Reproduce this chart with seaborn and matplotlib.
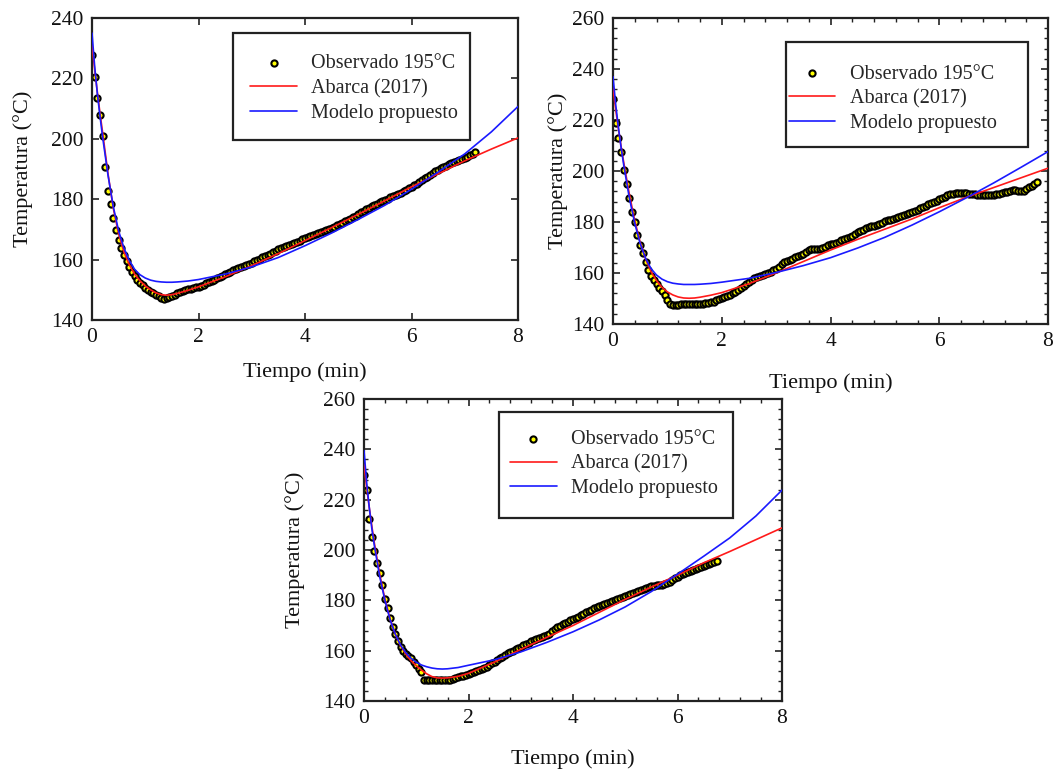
import numpy as np
import pandas as pd
import matplotlib
matplotlib.use("Agg")
import matplotlib.pyplot as plt
from matplotlib.patches import Rectangle
from matplotlib.ticker import MultipleLocator, AutoMinorLocator
import seaborn as sns

# ---------------- data ----------------
dt_obs = 0.05  # sampling interval of the observations (min)

obs1 = [227.8, 220.5, 213.5, 207.8, 201.0, 190.5, 182.8, 178.5, 173.9, 169.8,
        166.6, 163.8, 161.5, 159.4, 157.6, 155.9, 154.5, 153.4, 152.4, 151.5,
        150.7, 150.0, 149.4, 148.8, 148.3, 147.8, 147.4, 147.1, 147.2, 147.5,
        147.9, 148.3, 148.8, 149.3, 149.7, 150.0, 150.2, 150.4, 150.6, 150.8,
        151.0, 151.3, 151.7, 152.1, 152.6, 153.0, 153.4, 153.8, 154.3, 154.7,
        155.2, 155.6, 156.0, 156.5, 156.8, 157.1, 157.5, 157.9, 158.3, 158.7,
        159.0, 159.4, 159.8, 160.2, 160.7, 161.1, 161.5, 162.0, 162.5, 163.0,
        163.4, 163.8, 164.2, 164.5, 164.8, 165.2, 165.5, 165.9, 166.3, 166.7,
        167.0, 167.4, 167.8, 168.1, 168.5, 168.8, 169.1, 169.5, 169.9, 170.2,
        170.6, 170.9, 171.3, 171.8, 172.2, 172.7, 173.1, 173.6, 174.1, 174.6,
        175.1, 175.6, 176.1, 176.7, 177.2, 177.6, 178.0, 178.5, 179.0, 179.4,
        179.8, 180.2, 180.6, 180.9, 181.3, 181.7, 182.1, 182.6, 183.1, 183.6,
        184.1, 184.6, 185.1, 185.7, 186.3, 186.9, 187.5, 188.1, 188.7, 189.3,
        189.8, 190.3, 190.7, 191.1, 191.5, 191.9, 192.3, 192.7, 193.1, 193.4,
        193.7, 194.1, 194.5, 195.0, 195.5]

obs2 = [228.2, 219.0, 213.0, 207.5, 200.4, 195.0, 189.5, 184.1, 180.0, 175.0,
        171.0, 167.8, 164.5, 161.2, 159.0, 157.3, 155.8, 154.3, 152.8, 151.4,
        149.5, 148.0, 147.4, 147.5, 147.6, 147.7, 147.8, 147.8, 147.8, 147.8,
        147.8, 147.8, 147.9, 148.0, 148.2, 148.4, 148.6, 148.8, 149.3, 149.8,
        150.2, 150.6, 150.9, 151.4, 152.0, 152.7, 153.4, 154.1, 154.8, 155.6,
        156.4, 157.3, 158.0, 158.5, 159.0, 159.4, 159.8, 160.1, 160.5, 161.0,
        161.6, 162.3, 163.5, 164.2, 164.6, 165.0, 165.5, 166.1, 166.6, 167.1,
        167.6, 168.2, 168.9, 169.5, 169.6, 169.6, 169.6, 169.7, 170.2, 170.8,
        171.2, 171.5, 171.8, 172.3, 172.8, 173.3, 173.7, 174.2, 174.7, 175.3,
        175.9, 176.5, 177.0, 177.5, 177.9, 178.3, 178.6, 178.9, 179.3, 179.7,
        180.2, 180.6, 180.9, 181.2, 181.6, 182.0, 182.4, 182.8, 183.2, 183.6,
        184.0, 184.4, 184.9, 185.4, 185.9, 186.4, 186.9, 187.4, 187.9, 188.4,
        188.9, 189.4, 189.9, 190.4, 190.9, 191.1, 191.2, 191.3, 191.3, 191.3,
        191.2, 191.1, 190.9, 190.8, 190.7, 190.6, 190.5, 190.4, 190.4, 190.5,
        190.7, 190.9, 191.1, 191.3, 191.6, 191.9, 192.2, 192.4, 192.5, 192.3,
        192.1, 192.2, 192.8, 193.6, 194.3, 194.9, 195.5]

obs3 = [229.8, 223.8, 212.5, 205.0, 199.8, 195.0, 191.0, 186.0, 180.7, 176.8,
        173.0, 169.6, 166.5, 163.8, 161.5, 160.0, 158.8, 157.8, 156.9, 155.6,
        154.3, 152.9, 151.5, 148.3, 148.2, 148.2, 148.2, 148.2, 148.2, 148.2,
        148.2, 148.2, 148.2, 148.3, 148.6, 149.0, 149.4, 149.8, 150.1, 150.5,
        150.8, 151.1, 151.5, 151.9, 152.3, 152.6, 153.0, 153.7, 154.4, 155.0,
        155.6, 156.2, 156.9, 157.6, 158.2, 158.9, 159.5, 160.0, 160.5, 161.1,
        161.6, 162.1, 162.6, 163.1, 163.7, 164.2, 164.7, 165.1, 165.5, 165.9,
        166.3, 166.7, 167.8, 168.8, 169.5, 170.0, 170.5, 171.0, 171.5, 172.0,
        172.5, 173.0, 173.5, 174.1, 174.7, 175.3, 175.8, 176.3, 176.8, 177.3,
        177.7, 178.1, 178.5, 178.9, 179.3, 179.7, 180.1, 180.5, 180.9, 181.3,
        181.7, 182.1, 182.5, 182.9, 183.3, 183.7, 184.1, 184.5, 184.9, 185.2,
        185.5, 185.7, 185.9, 186.0, 186.2, 186.6, 187.0, 187.4, 188.1, 188.8,
        189.4, 190.0, 190.5, 191.0, 191.4, 191.8, 192.2, 192.6, 193.0, 193.4,
        193.8, 194.2, 194.6, 194.9, 195.2, 195.5]

t_model = [0.0, 0.05, 0.1, 0.15, 0.2, 0.3, 0.4, 0.5, 0.6, 0.7, 0.8, 0.9, 1.0,
           1.1, 1.2, 1.3, 1.4, 1.5, 1.6, 1.8, 2.0, 2.5, 3.0, 3.5, 4.0, 4.5, 5.0,
           5.5, 6.0, 6.5, 7.0, 7.5, 8.0]

abarca1 = [231.0, 223.0, 215.5, 208.5, 202.0, 188.5, 177.0, 168.5, 162.5, 158.3,
           155.2, 153.0, 151.3, 150.0, 149.0, 148.4, 148.2, 148.4, 148.8, 149.8,
           151.0, 154.3, 158.0, 162.0, 166.3, 170.6, 175.0, 179.5, 184.1, 188.4,
           192.7, 196.6, 200.3]
modelo1 = [235.0, 224.0, 215.0, 207.5, 200.5, 188.0, 177.5, 169.5, 163.8, 159.7,
           156.8, 155.0, 153.9, 153.2, 152.8, 152.6, 152.5, 152.5, 152.6, 152.9,
           153.4, 155.2, 157.6, 160.7, 164.6, 168.8, 173.3, 178.0, 183.3, 189.0,
           195.0, 202.3, 210.7]

abarca2 = [232.5, 224.0, 216.5, 209.5, 203.0, 191.0, 180.5, 172.0, 165.5, 160.5,
           157.0, 154.4, 152.6, 151.4, 150.6, 150.2, 150.1, 150.2, 150.5, 151.3,
           152.3, 155.8, 160.0, 164.5, 169.0, 173.2, 177.2, 181.2, 185.6, 189.7,
           193.5, 197.3, 201.1]
modelo2 = [237.0, 226.0, 217.0, 209.0, 202.0, 189.5, 179.5, 171.5, 165.7, 161.7,
           159.2, 157.6, 156.6, 156.0, 155.7, 155.5, 155.5, 155.5, 155.6, 155.9,
           156.4, 157.9, 160.2, 162.9, 166.0, 169.8, 174.0, 178.8, 184.0, 189.5,
           195.3, 201.4, 207.6]

abarca3 = [234.0, 225.0, 217.0, 209.5, 202.5, 190.5, 180.5, 172.5, 166.5, 162.0,
           158.6, 156.0, 154.0, 152.3, 150.8, 149.7, 149.2, 149.1, 149.2, 149.8,
           151.0, 155.5, 160.5, 165.3, 170.0, 175.2, 180.4, 185.3, 190.0, 194.9,
           199.4, 204.1, 208.8]
modelo3 = [239.5, 227.0, 217.0, 208.5, 201.5, 189.5, 180.0, 172.3, 166.5, 162.2,
           159.2, 157.0, 155.4, 154.3, 153.6, 153.1, 152.8, 152.7, 152.8, 153.3,
           154.2, 156.4, 159.5, 163.3, 167.5, 172.2, 177.4, 183.5, 190.4, 197.5,
           204.8, 213.5, 223.8]

ylims = [(140, 240), (140, 260), (140, 260)]
label_obs = "Observado 195°C"
label_abarca = "Abarca (2017)"
label_modelo = "Modelo propuesto"
xlabel = "Tiempo (min)"
ylabel = "Temperatura (°C)"

# ---------------- style ----------------
sns.set_theme(style="white")
plt.rcParams["font.family"] = ["Liberation Serif", "DejaVu Serif"]

fig = plt.figure(figsize=(10.56, 7.72), dpi=100)

W, H = 1056, 772
def ax_rect(l, r, t, b):
    return [l / W, (H - b) / H, (r - l) / W, (b - t) / H]

specs = [
    dict(rect=ax_rect(92, 518, 18, 320), obs=obs1, ab=abarca1, mo=modelo1,
         ylim=ylims[0], minor=False, xlpad=10.5, ylpad=13,
         box=(0.331, 0.596, 0.887 - 0.331, 0.950 - 0.596),
         leg=(0.372, 0.880)),
    dict(rect=ax_rect(613, 1048, 18, 324), obs=obs2, ab=abarca2, mo=modelo2,
         ylim=ylims[1], minor=True, xlpad=15.5, ylpad=3,
         box=(0.398, 0.578, 0.954 - 0.398, 0.922 - 0.578),
         leg=(0.405, 0.848)),
    dict(rect=ax_rect(364, 782, 399, 701), obs=obs3, ab=abarca3, mo=modelo3,
         ylim=ylims[2], minor=True, xlpad=15, ylpad=13,
         box=(0.323, 0.606, 0.883 - 0.323, 0.957 - 0.606),
         leg=(0.350, 0.897)),
]

for sp in specs:
    ax = fig.add_axes(sp["rect"])
    t_obs = np.arange(len(sp["obs"])) * dt_obs
    df_obs = pd.DataFrame({"t": t_obs, "T": sp["obs"]})
    df_mod = pd.DataFrame({"t": t_model, "A": sp["ab"], "M": sp["mo"]})

    sns.lineplot(data=df_mod, x="t", y="A", ax=ax, color="#ff1a1a", lw=1.2,
                 label=label_abarca, sort=False, zorder=3)
    sns.lineplot(data=df_mod, x="t", y="M", ax=ax, color="#1a1aff", lw=1.2,
                 label=label_modelo, sort=False, zorder=4)
    sns.scatterplot(data=df_obs, x="t", y="T", ax=ax, marker="o", s=20,
                    facecolor="#ffff00", edgecolor="black", linewidth=1.5,
                    label=label_obs, zorder=2)

    ax.set_xlim(0, 8)
    ax.set_ylim(*sp["ylim"])
    ax.xaxis.set_major_locator(MultipleLocator(2))
    ax.yaxis.set_major_locator(MultipleLocator(20))
    if sp["minor"]:
        ax.xaxis.set_minor_locator(AutoMinorLocator(5))
        ax.yaxis.set_minor_locator(AutoMinorLocator(5))
    ax.tick_params(which="both", direction="in", top=True, right=True,
                   bottom=True, left=True, color="#222222")
    ax.tick_params(which="major", length=5, width=1.2, labelsize=15.5, pad=6,
                   labelcolor="#111111")
    ax.tick_params(which="minor", length=3, width=1.0)
    for s in ax.spines.values():
        s.set_color("#222222")
        s.set_linewidth(1.6)
    ax.set_xlabel(xlabel, fontsize=16, labelpad=sp["xlpad"], color="#111111")
    ax.set_ylabel(ylabel, fontsize=16, labelpad=sp["ylpad"], color="#111111")

    # legend (entries ordered like the reference)
    h, l = ax.get_legend_handles_labels()
    order = [l.index(label_obs), l.index(label_abarca), l.index(label_modelo)]
    ax.legend([h[i] for i in order], [l[i] for i in order],
              loc="upper left", bbox_to_anchor=sp["leg"], frameon=False,
              fontsize=14.5, borderpad=0, handlelength=2.3, handletextpad=0.7,
              labelspacing=0.27, borderaxespad=0, markerscale=1.0)
    bx, by, bw, bh = sp["box"]
    ax.add_patch(Rectangle((bx, by), bw, bh, transform=ax.transAxes,
                           fill=True, facecolor="white", edgecolor="#222222",
                           lw=1.6, zorder=5))
    ax.get_legend().set_zorder(6)

fig.savefig("out.png", dpi=100)
